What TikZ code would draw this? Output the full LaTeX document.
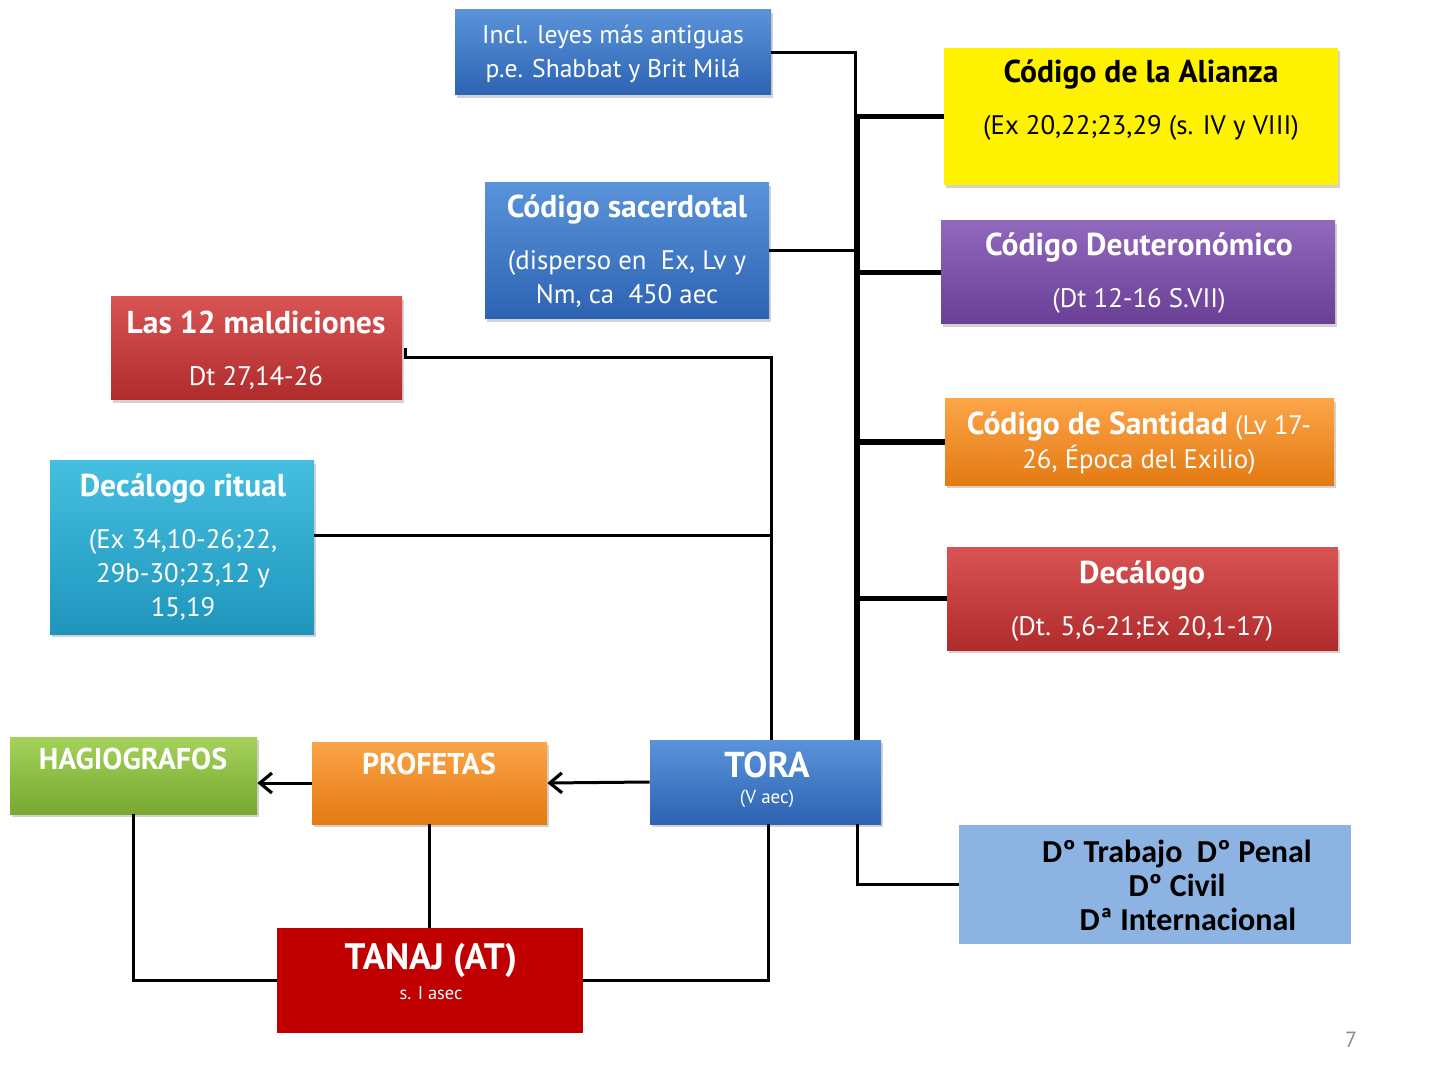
\documentclass[tikz,border=0pt]{standalone}
\usepackage{fontspec}
\setmainfont{PT Sans}
\newfontfamily\condf{Carlito}
\usetikzlibrary{arrows.meta,shadows,fit}
\definecolor{blueT}{HTML}{5A93DA}
\definecolor{blueB}{HTML}{2D63B2}
\definecolor{redT}{HTML}{D85454}
\definecolor{redB}{HTML}{B02C2C}
\definecolor{cyanT}{HTML}{45BFE0}
\definecolor{cyanB}{HTML}{1F95BC}
\definecolor{purT}{HTML}{9068BC}
\definecolor{purB}{HTML}{6A3F96}
\definecolor{orT}{HTML}{FBA448}
\definecolor{orB}{HTML}{E47A12}
\definecolor{grT}{HTML}{A4D25A}
\definecolor{grB}{HTML}{78A832}
\definecolor{tanaj}{HTML}{C00000}
\definecolor{lightb}{HTML}{8DB3E2}
\definecolor{pgray}{HTML}{8C8C8C}
\newcommand{\ttl}{\fontsize{15.8}{17}\selectfont\bfseries}
\newcommand{\bdy}{\fontsize{13.4}{17}\selectfont\mdseries}
\begin{document}
\begin{tikzpicture}[x=0.5pt,y=-0.5pt,
  bx/.style={inner sep=0pt, draw=none, drop shadow={shadow xshift=1.2pt,shadow yshift=-1.6pt,opacity=0.35}},
  gblue/.style={bx, top color=blueT, bottom color=blueB},
  gred/.style={bx, top color=redT, bottom color=redB},
  gcyan/.style={bx, top color=cyanT, bottom color=cyanB},
  gpur/.style={bx, top color=purT, bottom color=purB},
  gor/.style={bx, top color=orT, bottom color=orB},
  ggr/.style={bx, top color=grT, bottom color=grB},
  gyel/.style={bx, fill=yellow},
  flat/.style={inner sep=0pt, draw=none},
  tw/.style={text=white, align=center, inner sep=0pt, font=\bdy},
  tb/.style={text=black, align=center, inner sep=0pt, font=\bdy},
  ln/.style={draw=black, line width=1.5pt},
  thk/.style={draw=black, line width=2.6pt},
  arr/.style={ln, -{Straight Barb[length=6pt,width=10pt,line width=1.6pt]}}
]
\fill[white] (0,0) rectangle (1440,1069);
\useasboundingbox (0,0) rectangle (1440,1069);

% boxes
\node[gblue, fit={(455,10) (771,95)}] (incl) {};
\node[gblue, fit={(485,183) (769,319)}] (sacer) {};
\node[gred, fit={(111,297) (402,400)}] (mald) {};
\node[gcyan, fit={(50,461) (314,634)}] (ritual) {};
\node[gyel, fit={(944,48) (1338,185)}] (alianza) {};
\node[gpur, fit={(941,221) (1335,324)}] (deut) {};
\node[gor, fit={(945,399) (1334,485)}] (santi) {};
\node[gred, fit={(947,547) (1338,650)}] (decal) {};
\node[gblue, fit={(650,740) (881,824)}] (tora) {};
\node[gor, fit={(312,742) (547,824)}] (prof) {};
\node[ggr, fit={(10,737) (257,814)}] (hagi) {};
\node[flat, fill=tanaj, fit={(277,928) (583,1033)}] (tanajbox) {};
\node[flat, fill=lightb, fit={(959,825) (1351,944)}] (dbox) {};

% texts
\node[tw, font=\fontsize{12.8}{17}\selectfont] (tincl) at (613,54) {Incl. leyes más antiguas\\p.e. Shabbat y Brit Milá};
\node[tw] (tsacer) at (627,251) {{\ttl Código sacerdotal}\\[9pt](disperso en\ \ Ex, Lv y\\Nm, ca\ \ 450 aec};
\node[tw] (tmald) at (256,350) {{\ttl Las 12 maldiciones}\\[9pt]Dt 27,14-26};
\node[tw] (tritual) at (183,547.5) {{\ttl Decálogo ritual}\\[9pt](Ex 34,10-26;22,\\29b-30;23,12 y\\15,19};
\node[tb] (talianza) at (1141,100.5) {{\ttl Código de la Alianza}\\[9pt](Ex 20,22;23,29 (s. IV y VIII)};
\node[tw] (tdeut) at (1139,273.5) {{\ttl Código Deuteronómico}\\[9pt](Dt 12-16 S.VII)};
\node[tw] (tsanti) at (1139,443) {{\ttl Código de Santidad} (Lv 17-\\26, Época del Exilio)};
\node[tw] (tdecal) at (1142,601) {{\ttl Decálogo}\\[9pt](Dt. 5,6-21;Ex 20,1-17)};
\node[text=white, inner sep=0pt, font=\fontsize{18}{18}\selectfont\bfseries] (ttora) at (767,765) {TORA};
\node[text=white, inner sep=0pt, font=\fontsize{9.5}{10}\selectfont] (ttora2) at (767,799) {(V aec)};
\node[tw, font=\fontsize{15}{16}\selectfont\bfseries] (tprof) at (429,764) {PROFETAS};
\node[tw, font=\fontsize{15}{16}\selectfont\bfseries] (thagi) at (133,759) {HAGIOGRAFOS};
\node[text=white, inner sep=0pt, font=\fontsize{18.4}{20}\selectfont\bfseries] (ttanaj) at (431,960) {TANAJ (AT)};
\node[text=white, inner sep=0pt, font=\fontsize{9.2}{10}\selectfont] (ttanaj2) at (431,993) {s. I asec};
\node[tb, font=\condf\fontsize{16}{17}\selectfont\bfseries] (tdbox) at (1177,885) {Dº Trabajo\ \ Dº Penal\\Dº Civil\\\ \ \ Dª Internacional};
\node[text=pgray, inner sep=0pt, font=\fontsize{11}{12}\selectfont] (pnum) at (1351,1040) {7};

% helper coordinates
\coordinate (trunk) at (857,0);
\coordinate (thin) at (855,0);
\coordinate (mc) at (771,358);
\coordinate (tb) at (768,0);

% connectors
\draw[ln] (incl.east) -| (tora.north -| thin);
\draw[thk] (alianza.west -| trunk) -- (tora.north -| trunk);
\draw[thk] (alianza.west -| trunk) -- (alianza.west);
\draw[thk] (deut.west -| trunk) -- (deut.west);
\draw[thk] (santi.west -| trunk) -- (santi.west);
\draw[thk] (decal.west -| trunk) -- (decal.west);
\draw[ln] (sacer.east) -- (sacer.east -| thin);
\draw[ln] ([xshift=1.5pt]mald.east) |- (mc) -- (tora.north -| mc);
\draw[ln] ([yshift=6.2pt]ritual.east) -- ([yshift=6.2pt]ritual.east -| mc);
\draw[arr] (tora.west) -- (prof.east);
\draw[arr] (prof.west) -- (prof.west -| hagi.east);
\draw[ln] (hagi.south) |- (tanajbox.west);
\draw[ln] (prof.south) -- (prof.south |- tanajbox.north);
\draw[ln] (tora.south -| tb) |- (tanajbox.east);
\draw[ln] (tora.south -| trunk) |- (dbox.west);
\end{tikzpicture}
\end{document}
